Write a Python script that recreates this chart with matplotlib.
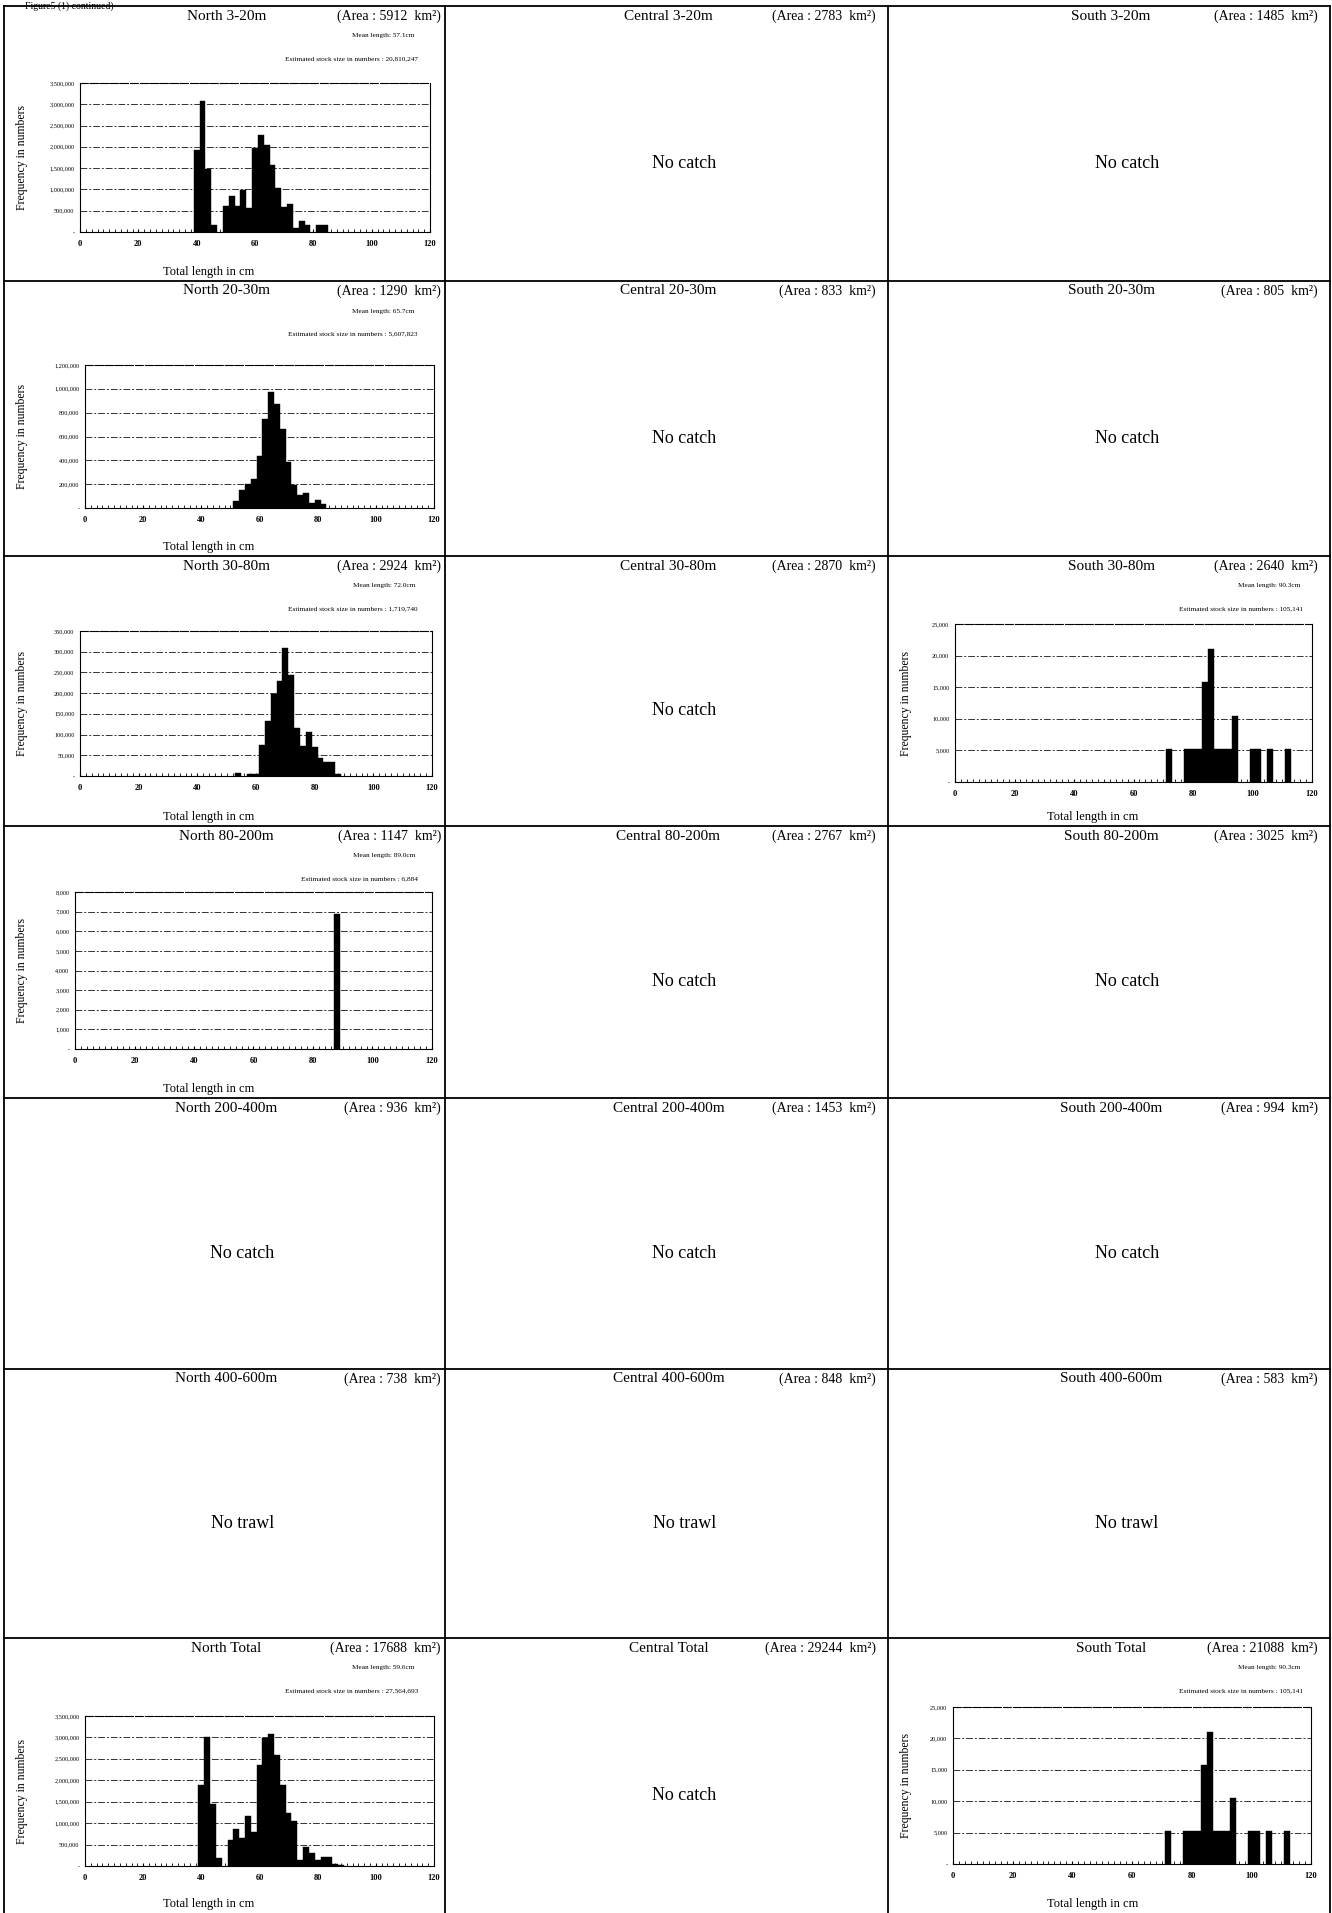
import matplotlib
matplotlib.use("Agg")
import matplotlib.pyplot as plt
from matplotlib.lines import Line2D
from matplotlib.ticker import FuncFormatter, MultipleLocator

plt.rcParams['font.family'] = ['Liberation Serif', 'DejaVu Serif']

# ---------------- data ----------------
regions = ["North", "Central", "South"]
depths = ["3-20m", "20-30m", "30-80m", "80-200m", "200-400m", "400-600m", "Total"]

area_north = [5912, 1290, 2924, 1147, 936, 738, 17688]
area_central = [2783, 833, 2870, 2767, 1453, 848, 29244]
area_south = [1485, 805, 2640, 3025, 994, 583, 21088]

x_ticks = [0, 20, 40, 60, 80, 100, 120]

n320_len = [40, 42, 44, 46, 50, 52, 54, 56, 58, 60, 62, 64, 66, 68, 70, 72, 74, 76, 78, 82, 84]
n320_val = [1930000, 3080000, 1470000, 160000, 620000, 850000, 600000, 990000, 570000, 1980000,
            2280000, 2040000, 1580000, 1040000, 580000, 650000, 90000, 260000, 160000, 160000, 160000]

n2030_len = [52, 54, 56, 58, 60, 62, 64, 66, 68, 70, 72, 74, 76, 78, 80, 82]
n2030_val = [55000, 150000, 205000, 240000, 440000, 750000, 970000, 875000, 660000, 390000,
             190000, 105000, 130000, 40000, 70000, 30000]

n3080_len = [54, 58, 60, 62, 64, 66, 68, 70, 72, 74, 76, 78, 80, 82, 84, 86, 88]
n3080_val = [8000, 5000, 5000, 76000, 132000, 199000, 229000, 309000, 245000, 117000,
             72000, 106000, 70000, 43000, 34000, 34000, 5000]

n80200_len = [88]
n80200_val = [6884]

s3080_len = [72, 78, 80, 82, 84, 86, 88, 90, 92, 94, 100, 102, 106, 112]
s3080_val = [5257, 5257, 5257, 5257, 15771, 21028, 5257, 5257, 5257, 10514, 5257, 5257, 5257, 5257]

ntot_len = [40, 42, 44, 46, 50, 52, 54, 56, 58, 60, 62, 64, 66, 68, 70, 72, 74, 76, 78, 80, 82, 84, 86, 88]
ntot_val = [1890000, 3020000, 1440000, 180000, 610000, 860000, 660000, 1170000, 800000, 2360000,
            2990000, 3080000, 2600000, 1890000, 1240000, 1060000, 140000, 450000, 300000, 130000,
            220000, 200000, 50000, 20000]

stot_len = [72, 78, 80, 82, 84, 86, 88, 90, 92, 94, 100, 102, 106, 112]
stot_val = [5257, 5257, 5257, 5257, 15771, 21028, 5257, 5257, 5257, 10514, 5257, 5257, 5257, 5257]

mean_lengths = {(0, 0): "57.1", (1, 0): "65.7", (2, 0): "72.0", (3, 0): "89.0",
                (2, 2): "90.3", (6, 0): "59.6", (6, 2): "90.3"}
stock_sizes = {(0, 0): "20,810,247", (1, 0): "5,607,823", (2, 0): "1,719,740", (3, 0): "6,884",
               (2, 2): "105,141", (6, 0): "27,564,693", (6, 2): "105,141"}
y_max = {(0, 0): 3500000, (1, 0): 1200000, (2, 0): 350000, (3, 0): 8000,
         (2, 2): 25000, (6, 0): 3500000, (6, 2): 25000}
y_step = {(0, 0): 500000, (1, 0): 200000, (2, 0): 50000, (3, 0): 1000,
          (2, 2): 5000, (6, 0): 500000, (6, 2): 5000}
series = {(0, 0): (n320_len, n320_val), (1, 0): (n2030_len, n2030_val),
          (2, 0): (n3080_len, n3080_val), (3, 0): (n80200_len, n80200_val),
          (2, 2): (s3080_len, s3080_val), (6, 0): (ntot_len, ntot_val),
          (6, 2): (stot_len, stot_val)}
no_trawl_rows = [5]

# ---------------- layout (pixels) ----------------
W, H = 1332, 1913
row_tops = [6, 281, 556, 826, 1098, 1369, 1638]
row_bottom_end = 1913
col_lefts = [4, 445, 888]
col_right_end = 1330

# axes box inside panel: left, right, top, bottom (relative px)
ax_box = {(0, 0): (76, 426, 77, 226), (1, 0): (81, 430, 84, 227), (2, 0): (76, 428, 75, 220),
          (3, 0): (71, 428, 66, 223), (2, 2): (67, 424, 68, 226), (6, 0): (81, 430, 78, 228),
          (6, 2): (65, 423, 69, 226)}

fig = plt.figure(figsize=(W / 100, H / 100), dpi=100)
fig.patch.set_facecolor("white")


def fx(px):
    return px / W


def fy(py):
    return 1 - py / H


# panel borders
lw_border = 1.3
for x in col_lefts + [col_right_end]:
    fig.add_artist(Line2D([fx(x), fx(x)], [fy(row_tops[0]), fy(H)], color="black", lw=lw_border))
for y in row_tops:
    fig.add_artist(Line2D([fx(col_lefts[0]), fx(col_right_end)], [fy(y), fy(y)], color="black", lw=lw_border))

# header line at top
fig.text(fx(25), fy(1), "Figure5 (1) continued)", fontsize=7, ha="left", va="top")

areas = [area_north, area_central, area_south]


def fmt_y(v, pos):
    if abs(v) < 1e-9:
        return "-"
    return f"{v:,.0f}"


for r in range(len(depths)):
    y0 = row_tops[r]
    y1 = row_tops[r + 1] if r + 1 < len(row_tops) else row_bottom_end
    ph = y1 - y0
    for c in range(len(regions)):
        x0 = col_lefts[c]
        x1 = col_lefts[c + 1] if c + 1 < len(col_lefts) else col_right_end
        pw = x1 - x0
        # title and area
        fig.text(fx(x0 + pw / 2 + 2), fy(y0 + 10), f"{regions[c]} {depths[r]}",
                 fontsize=11, ha="center", va="center")
        right_pad = 4 if c == 0 else 12
        fig.text(fx(x1 - right_pad), fy(y0 + 10), f"(Area : {areas[c][r]}  km²)",
                 fontsize=10, ha="right", va="center")
        key = (r, c)
        if key in series:
            fig.text(fx(x1 - 30), fy(y0 + 30), f"Mean length: {mean_lengths[key]}cm",
                     fontsize=5.2, ha="right", va="center")
            fig.text(fx(x1 - 27), fy(y0 + 53), f"Estimated stock size in numbers : {stock_sizes[key]}",
                     fontsize=5.2, ha="right", va="center")
            l, rr, t, b = ax_box[key]
            ax = fig.add_axes([fx(x0 + l), fy(y0 + b), (rr - l) / W, (b - t) / H])
            lens, vals = series[key]
            ax.bar(lens, vals, width=2, align="center", color="black", edgecolor="black", lw=0.3, zorder=3)
            ax.set_xlim(0, 120)
            ax.set_ylim(0, y_max[key])
            ax.set_xticks(x_ticks)
            ax.xaxis.set_minor_locator(MultipleLocator(2))
            ax.yaxis.set_major_locator(MultipleLocator(y_step[key]))
            ax.yaxis.set_major_formatter(FuncFormatter(fmt_y))
            ax.grid(axis="y", color="0.2", lw=0.7, linestyle=(0, (7, 2, 2, 2)), zorder=1)
            ax.tick_params(axis="x", which="major", labelsize=6, length=2.5, direction="in", pad=6)
            ax.tick_params(axis="x", which="minor", length=2.5, direction="in")
            ax.tick_params(axis="y", labelsize=4.5, length=0, pad=4)
            for lab in ax.get_xticklabels():
                lab.set_fontweight("bold")
            for sp in ax.spines.values():
                sp.set_color("black")
                sp.set_linewidth(0.8)
            ax.spines["top"].set_linestyle((0, (7, 2)))
            fig.text(fx(x0 + 18), fy(y0 + (t + b) / 2), "Frequency in numbers",
                     fontsize=8.5, rotation=90, ha="center", va="center")
            fig.text(fx(x0 + 205), fy(y0 + min(267, ph - 9)), "Total length in cm",
                     fontsize=9, ha="center", va="center")
        else:
            msg = "No trawl" if r in no_trawl_rows else "No catch"
            fig.text(fx(x0 + pw / 2 + 18), fy(y0 + ph / 2 + 20), msg,
                     fontsize=13, ha="center", va="center")

fig.savefig("out.png", dpi=100, facecolor="white")
